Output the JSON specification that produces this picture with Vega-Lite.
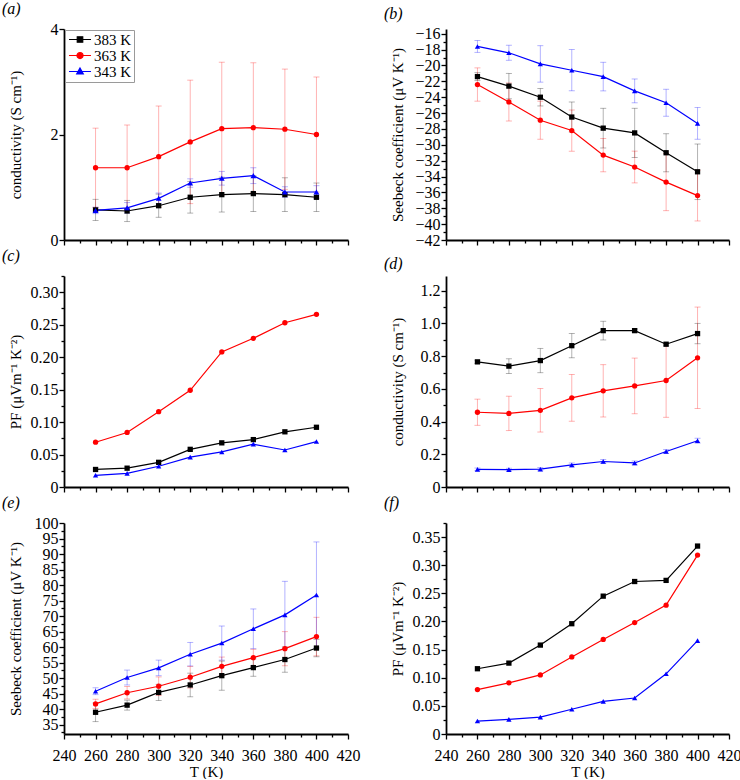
{
  "$schema": "https://vega.github.io/schema/vega-lite/v6.json",
  "padding": {"left": 2, "top": 1, "right": 0, "bottom": 0},
  "datasets": {
    "d": [
      {"p":"a","s":"383 K","T":260,"v":0.57,"e":0.2},{"p":"a","s":"383 K","T":280,"v":0.55,"e":0.2},{"p":"a","s":"383 K","T":300,"v":0.65,"e":0.22},{"p":"a","s":"383 K","T":320,"v":0.81,"e":0.3},{"p":"a","s":"383 K","T":340,"v":0.86,"e":0.33},{"p":"a","s":"383 K","T":360,"v":0.88,"e":0.34},{"p":"a","s":"383 K","T":380,"v":0.86,"e":0.32},{"p":"a","s":"383 K","T":400,"v":0.81,"e":0.27},
      {"p":"a","s":"363 K","T":260,"v":1.37,"e":0.75},{"p":"a","s":"363 K","T":280,"v":1.37,"e":0.81},{"p":"a","s":"363 K","T":300,"v":1.58,"e":0.96},{"p":"a","s":"363 K","T":320,"v":1.86,"e":1.17},{"p":"a","s":"363 K","T":340,"v":2.11,"e":1.26},{"p":"a","s":"363 K","T":360,"v":2.13,"e":1.23},{"p":"a","s":"363 K","T":380,"v":2.10,"e":1.14},{"p":"a","s":"363 K","T":400,"v":2.00,"e":1.09},
      {"p":"a","s":"343 K","T":260,"v":0.56,"e":0.06},{"p":"a","s":"343 K","T":280,"v":0.61,"e":0.1},{"p":"a","s":"343 K","T":300,"v":0.79,"e":0.1},{"p":"a","s":"343 K","T":320,"v":1.08,"e":0.08},{"p":"a","s":"343 K","T":340,"v":1.17,"e":0.13},{"p":"a","s":"343 K","T":360,"v":1.22,"e":0.15},{"p":"a","s":"343 K","T":380,"v":0.91,"e":0.1},{"p":"a","s":"343 K","T":400,"v":0.91,"e":0.12},

      {"p":"b","s":"383 K","T":260,"v":-21.4,"e":0.5},{"p":"b","s":"383 K","T":280,"v":-22.6,"e":1.6},{"p":"b","s":"383 K","T":300,"v":-24.0,"e":1.1},{"p":"b","s":"383 K","T":320,"v":-26.5,"e":1.9},{"p":"b","s":"383 K","T":340,"v":-27.9,"e":2.5},{"p":"b","s":"383 K","T":360,"v":-28.5,"e":3.1},{"p":"b","s":"383 K","T":380,"v":-31.0,"e":2.4},{"p":"b","s":"383 K","T":400,"v":-33.4,"e":3.5},
      {"p":"b","s":"363 K","T":260,"v":-22.4,"e":2.1},{"p":"b","s":"363 K","T":280,"v":-24.6,"e":2.4},{"p":"b","s":"363 K","T":300,"v":-26.9,"e":2.4},{"p":"b","s":"363 K","T":320,"v":-28.2,"e":2.6},{"p":"b","s":"363 K","T":340,"v":-31.3,"e":2.1},{"p":"b","s":"363 K","T":360,"v":-32.8,"e":2.0},{"p":"b","s":"363 K","T":380,"v":-34.7,"e":3.6},{"p":"b","s":"363 K","T":400,"v":-36.4,"e":3.2},
      {"p":"b","s":"343 K","T":260,"v":-17.6,"e":0.75},{"p":"b","s":"343 K","T":280,"v":-18.4,"e":0.95},{"p":"b","s":"343 K","T":300,"v":-19.8,"e":2.3},{"p":"b","s":"343 K","T":320,"v":-20.6,"e":2.6},{"p":"b","s":"343 K","T":340,"v":-21.4,"e":1.8},{"p":"b","s":"343 K","T":360,"v":-23.2,"e":1.5},{"p":"b","s":"343 K","T":380,"v":-24.7,"e":1.7},{"p":"b","s":"343 K","T":400,"v":-27.3,"e":2.0},

      {"p":"c","s":"383 K","T":260,"v":0.027},{"p":"c","s":"383 K","T":280,"v":0.029},{"p":"c","s":"383 K","T":300,"v":0.038},{"p":"c","s":"383 K","T":320,"v":0.058},{"p":"c","s":"383 K","T":340,"v":0.068},{"p":"c","s":"383 K","T":360,"v":0.073},{"p":"c","s":"383 K","T":380,"v":0.085},{"p":"c","s":"383 K","T":400,"v":0.092},
      {"p":"c","s":"363 K","T":260,"v":0.069},{"p":"c","s":"363 K","T":280,"v":0.084},{"p":"c","s":"363 K","T":300,"v":0.116},{"p":"c","s":"363 K","T":320,"v":0.149},{"p":"c","s":"363 K","T":340,"v":0.208},{"p":"c","s":"363 K","T":360,"v":0.229},{"p":"c","s":"363 K","T":380,"v":0.253},{"p":"c","s":"363 K","T":400,"v":0.266},
      {"p":"c","s":"343 K","T":260,"v":0.018},{"p":"c","s":"343 K","T":280,"v":0.021},{"p":"c","s":"343 K","T":300,"v":0.032},{"p":"c","s":"343 K","T":320,"v":0.046},{"p":"c","s":"343 K","T":340,"v":0.054},{"p":"c","s":"343 K","T":360,"v":0.066},{"p":"c","s":"343 K","T":380,"v":0.057},{"p":"c","s":"343 K","T":400,"v":0.070},

      {"p":"d","s":"383 K","T":260,"v":0.765,"e":0.01},{"p":"d","s":"383 K","T":280,"v":0.739,"e":0.045},{"p":"d","s":"383 K","T":300,"v":0.773,"e":0.074},{"p":"d","s":"383 K","T":320,"v":0.864,"e":0.074},{"p":"d","s":"383 K","T":340,"v":0.956,"e":0.057},{"p":"d","s":"383 K","T":360,"v":0.956,"e":0.01},{"p":"d","s":"383 K","T":380,"v":0.873,"e":0.01},{"p":"d","s":"383 K","T":400,"v":0.938,"e":0.062},
      {"p":"d","s":"363 K","T":260,"v":0.457,"e":0.08},{"p":"d","s":"363 K","T":280,"v":0.450,"e":0.105},{"p":"d","s":"363 K","T":300,"v":0.469,"e":0.133},{"p":"d","s":"363 K","T":320,"v":0.545,"e":0.143},{"p":"d","s":"363 K","T":340,"v":0.588,"e":0.16},{"p":"d","s":"363 K","T":360,"v":0.618,"e":0.17},{"p":"d","s":"363 K","T":380,"v":0.651,"e":0.225},{"p":"d","s":"363 K","T":400,"v":0.790,"e":0.31},
      {"p":"d","s":"343 K","T":260,"v":0.108,"e":0.008},{"p":"d","s":"343 K","T":280,"v":0.106,"e":0.008},{"p":"d","s":"343 K","T":300,"v":0.109,"e":0.01},{"p":"d","s":"343 K","T":320,"v":0.135,"e":0.012},{"p":"d","s":"343 K","T":340,"v":0.156,"e":0.012},{"p":"d","s":"343 K","T":360,"v":0.147,"e":0.012},{"p":"d","s":"343 K","T":380,"v":0.217,"e":0.012},{"p":"d","s":"343 K","T":400,"v":0.283,"e":0.015},

      {"p":"e","s":"383 K","T":260,"v":39.0,"e":3.0},{"p":"e","s":"383 K","T":280,"v":41.3,"e":1.6},{"p":"e","s":"383 K","T":300,"v":45.4,"e":2.6},{"p":"e","s":"383 K","T":320,"v":47.8,"e":3.8},{"p":"e","s":"383 K","T":340,"v":50.8,"e":4.7},{"p":"e","s":"383 K","T":360,"v":53.4,"e":2.8},{"p":"e","s":"383 K","T":380,"v":56.0,"e":4.1},{"p":"e","s":"383 K","T":400,"v":59.7,"e":2.8},
      {"p":"e","s":"363 K","T":260,"v":41.7,"e":1.5},{"p":"e","s":"363 K","T":280,"v":45.3,"e":2.0},{"p":"e","s":"363 K","T":300,"v":47.4,"e":3.0},{"p":"e","s":"363 K","T":320,"v":50.3,"e":3.5},{"p":"e","s":"363 K","T":340,"v":53.8,"e":3.0},{"p":"e","s":"363 K","T":360,"v":56.6,"e":2.7},{"p":"e","s":"363 K","T":380,"v":59.5,"e":5.5},{"p":"e","s":"363 K","T":400,"v":63.4,"e":6.2},
      {"p":"e","s":"343 K","T":260,"v":45.8,"e":1.1},{"p":"e","s":"343 K","T":280,"v":50.2,"e":2.4},{"p":"e","s":"343 K","T":300,"v":53.3,"e":2.5},{"p":"e","s":"343 K","T":320,"v":57.7,"e":3.8},{"p":"e","s":"343 K","T":340,"v":61.3,"e":5.5},{"p":"e","s":"343 K","T":360,"v":65.9,"e":6.4},{"p":"e","s":"343 K","T":380,"v":70.4,"e":10.8},{"p":"e","s":"343 K","T":400,"v":76.8,"e":17.1},

      {"p":"f","s":"383 K","T":260,"v":0.116},{"p":"f","s":"383 K","T":280,"v":0.126},{"p":"f","s":"383 K","T":300,"v":0.158},{"p":"f","s":"383 K","T":320,"v":0.196},{"p":"f","s":"383 K","T":340,"v":0.245},{"p":"f","s":"383 K","T":360,"v":0.271},{"p":"f","s":"383 K","T":380,"v":0.273},{"p":"f","s":"383 K","T":400,"v":0.334},
      {"p":"f","s":"363 K","T":260,"v":0.079},{"p":"f","s":"363 K","T":280,"v":0.091},{"p":"f","s":"363 K","T":300,"v":0.105},{"p":"f","s":"363 K","T":320,"v":0.137},{"p":"f","s":"363 K","T":340,"v":0.168},{"p":"f","s":"363 K","T":360,"v":0.198},{"p":"f","s":"363 K","T":380,"v":0.229},{"p":"f","s":"363 K","T":400,"v":0.318},
      {"p":"f","s":"343 K","T":260,"v":0.023},{"p":"f","s":"343 K","T":280,"v":0.026},{"p":"f","s":"343 K","T":300,"v":0.030},{"p":"f","s":"343 K","T":320,"v":0.044},{"p":"f","s":"343 K","T":340,"v":0.058},{"p":"f","s":"343 K","T":360,"v":0.064},{"p":"f","s":"343 K","T":380,"v":0.107},{"p":"f","s":"343 K","T":400,"v":0.166}
    ]
  },
  "data": {"name": "d"},
  "columns": 2,
  "spacing": {"row": 0, "column": 24},
  "concat": [
    {
      "width": 284, "height": 211,
      "title": "(a)",
      "transform": [{"filter": "datum.p === 'a'"}],
      "encoding": {
        "x": {"field": "T", "type": "quantitative", "scale": {"domain": [240, 420], "nice": false, "zero": false},
          "axis": {"values": [240,250,260,270,280,290,300,310,320,330,340,350,360,370,380,390,400,410,420], "labels": false, "title": null,
            "tickSize": {"condition": {"test": "datum.value % 20 !== 0", "value": 3}, "value": 5}}},
        "y": {"field": "v", "type": "quantitative", "scale": {"domain": [0, 4], "nice": false, "zero": false},
          "axis": {"values": [0, 2, 4], "format": "d", "title": "conductivity (S cm⁻¹)", "tickSize": 5}}
      },
      "layer": [
        {"mark": {"type": "point", "filled": true, "opacity": 0},
          "encoding": {
            "color": {"field": "s", "type": "nominal", "scale": {"domain": ["383 K", "363 K", "343 K"], "range": ["#000000", "#ff0000", "#0000ff"]},
              "legend": {"orient": "top-left", "offset": 1, "title": null, "strokeColor": "#9a9a9a", "fillColor": "#ffffff", "padding": 2, "rowPadding": 0,
                "labelFontSize": 15, "labelFont": "Liberation Serif", "labelColor": "#000000", "labelOffset": 12, "symbolSize": 121, "symbolStrokeWidth": 1.2, "symbolOpacity": 1}},
            "stroke": {"field": "s", "type": "nominal", "scale": {"domain": ["383 K", "363 K", "343 K"], "range": ["#000000", "#ff0000", "#0000ff"]},
              "legend": {"orient": "top-left", "offset": 1, "title": null, "strokeColor": "#9a9a9a", "fillColor": "#ffffff", "padding": 2, "rowPadding": 0,
                "labelFontSize": 15, "labelFont": "Liberation Serif", "labelColor": "#000000", "labelOffset": 12, "symbolSize": 121, "symbolStrokeWidth": 1.2, "symbolOpacity": 1}},
            "shape": {"field": "s", "type": "nominal", "scale": {"domain": ["383 K", "363 K", "343 K"], "range": ["M-1,0H3M0.5,-0.5H1.5V0.5H0.5Z", "M-1,0H3M1.55,0A0.55,0.55,0,1,1,0.45,0A0.55,0.55,0,1,1,1.55,0Z", "M-1,0H3M1,-0.65L1.6,0.45H0.4Z"]},
              "legend": {"orient": "top-left", "offset": 1, "title": null, "strokeColor": "#9a9a9a", "fillColor": "#ffffff", "padding": 2, "rowPadding": 0,
                "labelFontSize": 15, "labelFont": "Liberation Serif", "labelColor": "#000000", "labelOffset": 12, "symbolSize": 121, "symbolStrokeWidth": 1.2, "symbolOpacity": 1}}
          }},
        {"mark": {"type": "errorbar", "ticks": {"size": 6, "opacity": 0.3}, "rule": {"opacity": 0.3}, "thickness": 1},
          "encoding": {"yError": {"field": "e"}, "color": {"field": "s", "type": "nominal", "legend": null}}},
        {"mark": {"type": "line"}, "encoding": {"color": {"field": "s", "type": "nominal", "legend": null}}},
        {"transform": [{"filter": "datum.s === '383 K'"}], "mark": {"type": "point", "shape": "square"}, "encoding": {"color": {"field": "s", "type": "nominal", "legend": null}}},
        {"transform": [{"filter": "datum.s === '363 K'"}], "mark": {"type": "point", "shape": "circle"}, "encoding": {"color": {"field": "s", "type": "nominal", "legend": null}}},
        {"transform": [{"filter": "datum.s === '343 K'"}], "mark": {"type": "point", "shape": "triangle-up", "size": 34}, "encoding": {"color": {"field": "s", "type": "nominal", "legend": null}}}
      ]
    },
    {
      "width": 283, "height": 211,
      "title": "(b)",
      "transform": [{"filter": "datum.p === 'b'"}],
      "encoding": {
        "x": {"field": "T", "type": "quantitative", "scale": {"domain": [240, 420], "nice": false, "zero": false},
          "axis": {"values": [240,250,260,270,280,290,300,310,320,330,340,350,360,370,380,390,400,410,420], "labels": false, "title": null,
            "tickSize": {"condition": {"test": "datum.value % 20 !== 0", "value": 3}, "value": 5}}},
        "y": {"field": "v", "type": "quantitative", "scale": {"domain": [-42, -15.4], "nice": false, "zero": false},
          "axis": {"values": [-42,-41,-40,-39,-38,-37,-36,-35,-34,-33,-32,-31,-30,-29,-28,-27,-26,-25,-24,-23,-22,-21,-20,-19,-18,-17,-16],
            "labelExpr": "datum.value % 2 === 0 ? format(datum.value, 'd') : ''", "title": "Seebeck coefficient (μV K⁻¹)",
            "tickSize": {"condition": {"test": "datum.value % 2 !== 0", "value": 3}, "value": 5}}},
        "color": {"field": "s", "type": "nominal", "scale": {"domain": ["383 K", "363 K", "343 K"], "range": ["#000000", "#ff0000", "#0000ff"]}, "legend": null}
      },
      "layer": [
        {"mark": {"type": "errorbar", "ticks": {"size": 6, "opacity": 0.3}, "rule": {"opacity": 0.3}, "thickness": 1}, "encoding": {"yError": {"field": "e"}}},
        {"mark": {"type": "line"}},
        {"mark": {"type": "point"}, "encoding": {"shape": {"field": "s", "type": "nominal", "scale": {"domain": ["383 K", "363 K", "343 K"], "range": ["square", "circle", "triangle-up"]}, "legend": null}}}
      ]
    },
    {
      "width": 284, "height": 211,
      "title": "(c)",
      "transform": [{"filter": "datum.p === 'c'"}],
      "encoding": {
        "x": {"field": "T", "type": "quantitative", "scale": {"domain": [240, 420], "nice": false, "zero": false},
          "axis": {"values": [240,250,260,270,280,290,300,310,320,330,340,350,360,370,380,390,400,410,420], "labels": false, "title": null,
            "tickSize": {"condition": {"test": "datum.value % 20 !== 0", "value": 3}, "value": 5}}},
        "y": {"field": "v", "type": "quantitative", "scale": {"domain": [0, 0.325], "nice": false, "zero": false},
          "axis": {"values": [0,0.025,0.05,0.075,0.1,0.125,0.15,0.175,0.2,0.225,0.25,0.275,0.3,0.325],
            "labelExpr": "round(datum.value*1000) % 50 === 0 ? (datum.value === 0 ? '0' : format(datum.value, '.2f')) : ''", "title": "PF (μVm⁻¹ K⁻²)",
            "tickSize": {"condition": {"test": "round(datum.value*1000) % 50 !== 0", "value": 3}, "value": 5}}},
        "color": {"field": "s", "type": "nominal", "scale": {"domain": ["383 K", "363 K", "343 K"], "range": ["#000000", "#ff0000", "#0000ff"]}, "legend": null}
      },
      "layer": [
        {"mark": {"type": "line"}},
        {"mark": {"type": "point"}, "encoding": {"shape": {"field": "s", "type": "nominal", "scale": {"domain": ["383 K", "363 K", "343 K"], "range": ["square", "circle", "triangle-up"]}, "legend": null}}}
      ]
    },
    {
      "width": 283, "height": 211,
      "title": "(d)",
      "transform": [{"filter": "datum.p === 'd'"}],
      "encoding": {
        "x": {"field": "T", "type": "quantitative", "scale": {"domain": [240, 420], "nice": false, "zero": false},
          "axis": {"values": [240,250,260,270,280,290,300,310,320,330,340,350,360,370,380,390,400,410,420], "labels": false, "title": null,
            "tickSize": {"condition": {"test": "datum.value % 20 !== 0", "value": 3}, "value": 5}}},
        "y": {"field": "v", "type": "quantitative", "scale": {"domain": [0, 1.29], "nice": false, "zero": false},
          "axis": {"values": [0,0.1,0.2,0.3,0.4,0.5,0.6,0.7,0.8,0.9,1.0,1.1,1.2],
            "labelExpr": "round(datum.value*10) % 2 === 0 ? (datum.value === 0 ? '0' : format(datum.value, '.1f')) : ''", "title": "conductivity (S cm⁻¹)",
            "tickSize": {"condition": {"test": "round(datum.value*10) % 2 !== 0", "value": 3}, "value": 5}}},
        "color": {"field": "s", "type": "nominal", "scale": {"domain": ["383 K", "363 K", "343 K"], "range": ["#000000", "#ff0000", "#0000ff"]}, "legend": null}
      },
      "layer": [
        {"mark": {"type": "errorbar", "ticks": {"size": 6, "opacity": 0.3}, "rule": {"opacity": 0.3}, "thickness": 1}, "encoding": {"yError": {"field": "e"}}},
        {"mark": {"type": "line"}},
        {"mark": {"type": "point"}, "encoding": {"shape": {"field": "s", "type": "nominal", "scale": {"domain": ["383 K", "363 K", "343 K"], "range": ["square", "circle", "triangle-up"]}, "legend": null}}}
      ]
    },
    {
      "width": 284, "height": 211,
      "title": "(e)",
      "transform": [{"filter": "datum.p === 'e'"}],
      "encoding": {
        "x": {"field": "T", "type": "quantitative", "scale": {"domain": [240, 420], "nice": false, "zero": false},
          "axis": {"values": [240,250,260,270,280,290,300,310,320,330,340,350,360,370,380,390,400,410,420], "labelExpr": "datum.value % 20 === 0 ? datum.label : ''", "title": "T (K)",
            "tickSize": {"condition": {"test": "datum.value % 20 !== 0", "value": 3}, "value": 5}}},
        "y": {"field": "v", "type": "quantitative", "scale": {"domain": [32, 100], "nice": false, "zero": false},
          "axis": {"values": [32.5,35,37.5,40,42.5,45,47.5,50,52.5,55,57.5,60,62.5,65,67.5,70,72.5,75,77.5,80,82.5,85,87.5,90,92.5,95,97.5,100],
            "labelExpr": "round(datum.value*10) % 50 === 0 ? format(datum.value, 'd') : ''", "title": "Seebeck coefficient (μV K⁻¹)",
            "tickSize": {"condition": {"test": "round(datum.value*10) % 50 !== 0", "value": 3}, "value": 5}}},
        "color": {"field": "s", "type": "nominal", "scale": {"domain": ["383 K", "363 K", "343 K"], "range": ["#000000", "#ff0000", "#0000ff"]}, "legend": null}
      },
      "layer": [
        {"mark": {"type": "errorbar", "ticks": {"size": 6, "opacity": 0.3}, "rule": {"opacity": 0.3}, "thickness": 1}, "encoding": {"yError": {"field": "e"}}},
        {"mark": {"type": "line"}},
        {"mark": {"type": "point"}, "encoding": {"shape": {"field": "s", "type": "nominal", "scale": {"domain": ["383 K", "363 K", "343 K"], "range": ["square", "circle", "triangle-up"]}, "legend": null}}}
      ]
    },
    {
      "width": 283, "height": 211,
      "title": "(f)",
      "transform": [{"filter": "datum.p === 'f'"}],
      "encoding": {
        "x": {"field": "T", "type": "quantitative", "scale": {"domain": [240, 420], "nice": false, "zero": false},
          "axis": {"values": [240,250,260,270,280,290,300,310,320,330,340,350,360,370,380,390,400,410,420], "labelExpr": "datum.value % 20 === 0 ? datum.label : ''", "title": "T (K)",
            "tickSize": {"condition": {"test": "datum.value % 20 !== 0", "value": 3}, "value": 5}}},
        "y": {"field": "v", "type": "quantitative", "scale": {"domain": [0, 0.375], "nice": false, "zero": false},
          "axis": {"values": [0,0.025,0.05,0.075,0.1,0.125,0.15,0.175,0.2,0.225,0.25,0.275,0.3,0.325,0.35,0.375],
            "labelExpr": "round(datum.value*1000) % 50 === 0 ? (datum.value === 0 ? '0' : format(datum.value, '.2f')) : ''", "title": "PF (μVm⁻¹ K⁻²)",
            "tickSize": {"condition": {"test": "round(datum.value*1000) % 50 !== 0", "value": 3}, "value": 5}}},
        "color": {"field": "s", "type": "nominal", "scale": {"domain": ["383 K", "363 K", "343 K"], "range": ["#000000", "#ff0000", "#0000ff"]}, "legend": null}
      },
      "layer": [
        {"mark": {"type": "line"}},
        {"mark": {"type": "point"}, "encoding": {"shape": {"field": "s", "type": "nominal", "scale": {"domain": ["383 K", "363 K", "343 K"], "range": ["square", "circle", "triangle-up"]}, "legend": null}}}
      ]
    }
  ],
  "resolve": {
    "scale": {"color": "independent", "shape": "independent", "stroke": "independent", "x": "independent", "y": "independent"},
    "legend": {"color": "independent", "shape": "independent", "stroke": "independent"}
  },
  "config": {
    "view": {"stroke": null},
    "font": "Liberation Serif",
    "axis": {"grid": false, "domainColor": "#000000", "domainWidth": 1.8, "tickColor": "#000000", "tickWidth": 1.3,
      "labelColor": "#000000", "labelFont": "Liberation Serif", "labelFontSize": 16, "labelFlush": false, "labelOverlap": false,
      "titleFont": "Liberation Serif", "titleFontSize": 15, "titleFontWeight": "normal", "titleColor": "#000000"},
    "axisY": {"labelPadding": 1, "minExtent": 38, "maxExtent": 38, "titlePadding": 3},
    "axisX": {"labelPadding": 8, "titlePadding": 1},
    "title": {"anchor": "start", "frame": "bounds", "fontSize": 16, "font": "Liberation Serif", "fontStyle": "italic", "fontWeight": "normal", "color": "#000000", "offset": 0, "dx": -6},
    "line": {"strokeWidth": 1.2},
    "point": {"size": 28, "filled": true, "opacity": 1}
  }
}
